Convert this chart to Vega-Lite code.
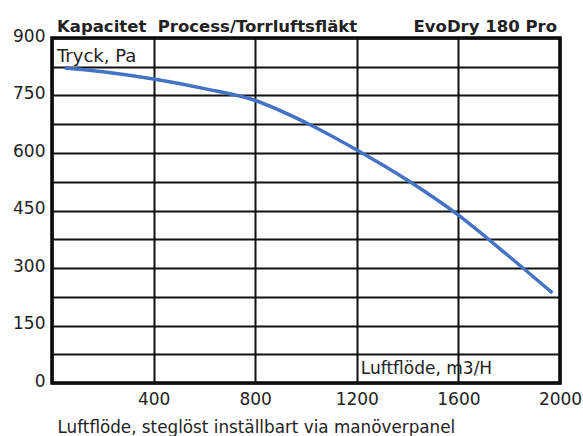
{
  "$schema": "https://vega.github.io/schema/vega-lite/v6.json",
  "autosize": "none",
  "width": 508,
  "height": 345,
  "padding": {"left": 52, "top": 38, "right": 23, "bottom": 53},
  "background": "white",
  "config": {
    "view": {"stroke": "black", "strokeWidth": 3.5},
    "font": "DejaVu Sans",
    "axis": {
      "labelFont": "DejaVu Sans",
      "labelFontSize": 17,
      "labelColor": "#222",
      "labelFlush": false,
      "grid": true,
      "gridColor": "#111",
      "gridWidth": 2,
      "gridOpacity": 1,
      "ticks": false,
      "domain": false
    }
  },
  "layer": [
    {
      "data": {"values": [
        {"flow": 50, "pressure": 822},
        {"flow": 200, "pressure": 812},
        {"flow": 400, "pressure": 793},
        {"flow": 600, "pressure": 768},
        {"flow": 800, "pressure": 737},
        {"flow": 1000, "pressure": 679},
        {"flow": 1200, "pressure": 608},
        {"flow": 1400, "pressure": 529},
        {"flow": 1600, "pressure": 438},
        {"flow": 1800, "pressure": 330},
        {"flow": 1970, "pressure": 235}
      ]},
      "mark": {"type": "line", "color": "#4472c4", "strokeWidth": 3.5, "interpolate": "monotone"},
      "encoding": {
        "x": {
          "field": "flow", "type": "quantitative",
          "scale": {"domain": [0, 2000], "nice": false},
          "axis": {
            "values": [0, 400, 800, 1200, 1600, 2000],
            "tickCount": 20,
            "format": "d",
            "labelExpr": "datum.value == 0 ? '' : datum.label",
            "labelPadding": 8,
            "title": "Luftflöde, steglöst inställbart via manöverpanel",
            "titleFont": "DejaVu Sans",
            "titleFontSize": 16.8,
            "titleFontWeight": "normal",
            "titleColor": "#222",
            "titleAnchor": "start",
            "titleAlign": "left",
            "titleBaseline": "alphabetic",
            "titleX": 5,
            "titleY": 49
          }
        },
        "y": {
          "field": "pressure", "type": "quantitative",
          "scale": {"domain": [0, 900], "nice": false},
          "axis": {
            "values": [0, 75, 150, 225, 300, 375, 450, 525, 600, 675, 750, 825, 900],
            "tickCount": 20,
            "labelExpr": "datum.value % 150 == 0 ? datum.label : ''",
            "labelPadding": 7,
            "labelOffset": -2,
            "title": null
          }
        }
      }
    },
    {
      "data": {"values": [{}]},
      "mark": {"type": "text", "font": "DejaVu Sans", "fontWeight": "bold", "fontSize": 16.5, "align": "left", "baseline": "alphabetic", "dx": 5, "dy": -6, "color": "#222"},
      "encoding": {"x": {"datum": 0}, "y": {"datum": 900}, "text": {"value": "Kapacitet\u00a0 Process/Torrluftsfläkt"}}
    },
    {
      "data": {"values": [{}]},
      "mark": {"type": "text", "font": "DejaVu Sans", "fontWeight": "bold", "fontSize": 16.5, "align": "right", "baseline": "alphabetic", "dx": -3, "dy": -6, "color": "#222"},
      "encoding": {"x": {"datum": 2000}, "y": {"datum": 900}, "text": {"value": "EvoDry 180 Pro"}}
    },
    {
      "data": {"values": [{}]},
      "mark": {"type": "text", "font": "DejaVu Sans", "fontSize": 18, "align": "left", "baseline": "alphabetic", "dx": 5, "dy": 24, "color": "#222"},
      "encoding": {"x": {"datum": 0}, "y": {"datum": 900}, "text": {"value": "Tryck, Pa"}}
    },
    {
      "data": {"values": [{}]},
      "mark": {"type": "text", "font": "DejaVu Sans", "fontSize": 17, "align": "left", "baseline": "alphabetic", "dx": 4, "dy": -9, "color": "#222"},
      "encoding": {"x": {"datum": 1200}, "y": {"datum": 0}, "text": {"value": "Luftflöde, m3/H"}}
    }
  ]
}
